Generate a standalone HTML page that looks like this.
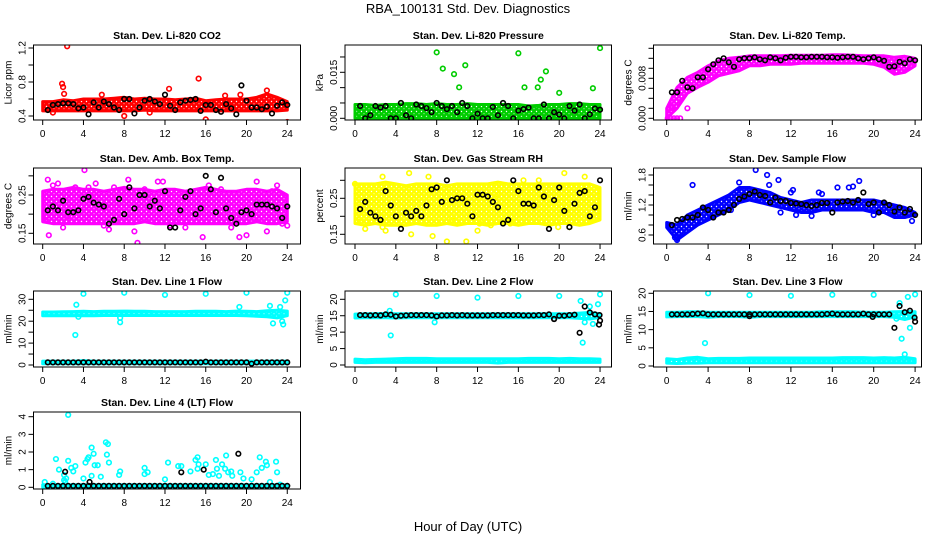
<!DOCTYPE html>
<html><head><meta charset="utf-8"><style>
html,body{margin:0;padding:0;background:#fff;}
svg{display:block;font-family:"Liberation Sans",sans-serif;}
</style></head><body>
<svg id="chart" width="936" height="540" viewBox="0 0 936 540" xmlns="http://www.w3.org/2000/svg">
<defs id="defs"></defs>
<text x="468" y="13" text-anchor="middle" font-size="13">RBA_100131  Std. Dev. Diagnostics</text>
<text x="468" y="531" text-anchor="middle" font-size="13">Hour of Day (UTC)</text>
</svg>
<script>
// shared hour arrays
const bandHours = [0,1,2,3,4,5,6,7,8,9,10,11,12,13,14,15,16,17,18,19,20,21,22,23,24];
const blackHours = [0.5,1,1.5,2,2.5,3,3.5,4,4.5,5,5.5,6,6.5,7,7.5,8,8.5,9,9.5,10,10.5,11,11.5,12,12.5,13,13.5,14,14.5,15,15.5,16,16.5,17,17.5,18,18.5,19,19.5,20,20.5,21,21.5,22,22.5,23,23.5,24];
const xTicks = [0,4,8,12,16,20,24];

// Panel 1 CO2
const co2Lo = [0.46,0.46,0.46,0.46,0.46,0.46,0.46,0.46,0.46,0.46,0.47,0.46,0.46,0.46,0.46,0.46,0.46,0.46,0.46,0.46,0.46,0.46,0.46,0.46,0.47];
const co2Hi = [0.57,0.57,0.59,0.58,0.6,0.6,0.6,0.61,0.62,0.6,0.61,0.6,0.6,0.59,0.6,0.61,0.58,0.59,0.6,0.6,0.6,0.62,0.66,0.62,0.57];
const co2OutX = [2.4,1.9,2.0,2.1,15.3,12.4,16,24,8,5.8,19.4,22,17.9,1.0,10.5];
const co2OutY = [1.22,0.78,0.74,0.66,0.84,0.72,0.36,0.33,0.4,0.65,0.65,0.7,0.64,0.44,0.44];
const co2Black = [0.47,0.53,0.54,0.55,0.55,0.54,0.49,0.5,0.42,0.56,0.5,0.57,0.54,0.5,0.47,0.6,0.6,0.43,0.5,0.58,0.6,0.57,0.54,0.65,0.52,0.47,0.56,0.58,0.59,0.6,0.46,0.53,0.53,0.47,0.45,0.54,0.49,0.42,0.76,0.58,0.5,0.5,0.48,0.51,0.43,0.52,0.56,0.53];

// Panel 2 Pressure
const presLo = [0,0,0,0,0,0,0,0,0,0,0,0,0,0,0,0,0,0,0,0,0,0,0,0,0];
const presHi = [0.0045,0.0045,0.0042,0.0045,0.0045,0.0048,0.0048,0.0045,0.0048,0.0045,0.0045,0.0048,0.0045,0.0045,0.0045,0.0045,0.0045,0.004,0.0042,0.0045,0.0045,0.0048,0.0048,0.0045,0.0045];
const presOutX = [8,8.6,9.7,10.8,10.2,16,16.6,17.9,18.2,18.7,20,23.3,24];
const presOutY = [0.0215,0.0162,0.0144,0.0173,0.0101,0.0212,0.0101,0.0101,0.0126,0.0153,0.0083,0.0098,0.0229];
const presBlack = [0.004,0,0.001,0.004,0.0035,0.004,0,0,0.005,0.001,0,0.0045,0.004,0.0033,0.002,0.005,0.004,0.003,0.004,0.002,0.005,0.004,0,0.0015,0,0,0.0037,0.001,0.005,0.004,0,0.0025,0.003,0.0035,0,0,0.0045,0,0.002,0.0012,0,0.004,0.0025,0.0045,0,0.0013,0.0032,0.0028];

// Panel 3 Li-820 Temp
const tempLo = [0.0000,0.0020,0.0050,0.0062,0.0072,0.0085,0.0090,0.0095,0.0105,0.0105,0.0108,0.0108,0.0108,0.0110,0.0110,0.0110,0.0110,0.0110,0.0110,0.0110,0.0108,0.0102,0.0088,0.0092,0.0105];
const tempHi = [0.0020,0.0062,0.0082,0.0092,0.0105,0.0115,0.0120,0.0122,0.0125,0.0125,0.0125,0.0125,0.0126,0.0126,0.0126,0.0126,0.0127,0.0127,0.0126,0.0125,0.0125,0.0125,0.0122,0.0124,0.0120];
const tempOutX = [0.1,0.4,0.7,1.0,1.3,0.5,2.0];
const tempOutY = [0.0000,0.0000,0.0000,0.0000,0.0000,0.0020,0.0020];
const tempBlack = [0.0052,0.0052,0.0075,0.0062,0.006,0.0082,0.0082,0.0098,0.0108,0.0116,0.0120,0.0112,0.0103,0.0118,0.0120,0.0120,0.0122,0.0118,0.0116,0.0122,0.0120,0.0116,0.0121,0.0123,0.0123,0.0122,0.0122,0.0123,0.0123,0.0123,0.0122,0.0122,0.0121,0.0122,0.0123,0.0123,0.012,0.0118,0.012,0.0122,0.0118,0.0115,0.0103,0.0104,0.0113,0.011,0.0118,0.0116];

// Panel 4 Amb Box Temp
const ambLo = [0.18,0.175,0.175,0.175,0.175,0.175,0.175,0.175,0.175,0.175,0.18,0.175,0.175,0.175,0.175,0.175,0.175,0.175,0.175,0.175,0.175,0.18,0.175,0.175,0.18];
const ambHi = [0.26,0.265,0.265,0.27,0.265,0.265,0.26,0.265,0.27,0.265,0.265,0.26,0.265,0.265,0.26,0.265,0.27,0.265,0.26,0.26,0.265,0.265,0.26,0.265,0.25];
const ambOutX = [0.5,0.6,1,1.5,0.3,2,3.2,4.1,4.5,5.2,6.5,7,8.4,9,9.3,10,11.3,11.8,12.5,14,15.7,16.3,17.5,18.5,19.3,20,21,22,22.5,23,23.5,24,2.5,13,6,19];
const ambOutY = [0.29,0.145,0.275,0.28,0.185,0.165,0.27,0.315,0.27,0.28,0.16,0.27,0.29,0.155,0.125,0.265,0.285,0.285,0.17,0.165,0.14,0.275,0.265,0.165,0.14,0.145,0.285,0.155,0.26,0.275,0.175,0.17,0.195,0.18,0.17,0.18];
const ambBlack = [0.21,0.22,0.21,0.235,0.205,0.205,0.21,0.24,0.245,0.23,0.225,0.22,0.175,0.185,0.24,0.2,0.27,0.215,0.25,0.25,0.22,0.235,0.215,0.26,0.165,0.165,0.21,0.245,0.26,0.2,0.215,0.3,0.265,0.205,0.295,0.215,0.19,0.175,0.205,0.21,0.2,0.225,0.225,0.225,0.22,0.215,0.19,0.22];

// Panel 5 Gas Stream RH
const rhLo = [0.18,0.175,0.18,0.175,0.175,0.175,0.18,0.175,0.175,0.18,0.175,0.18,0.18,0.175,0.18,0.18,0.175,0.18,0.18,0.175,0.18,0.18,0.175,0.18,0.19];
const rhHi = [0.29,0.29,0.29,0.295,0.29,0.285,0.29,0.29,0.29,0.285,0.29,0.29,0.29,0.29,0.295,0.29,0.29,0.29,0.29,0.29,0.29,0.29,0.29,0.29,0.28];
const rhOutX = [0,0.5,1,2.7,2.7,3,5.3,5.5,7.2,7.6,9,10.9,12,12.2,13.3,15.2,19.9,20.5,21,22.5,23,9.5,16.5,14,18];
const rhOutY = [0.29,0.185,0.165,0.17,0.31,0.16,0.32,0.15,0.31,0.145,0.13,0.13,0.16,0.18,0.175,0.18,0.17,0.32,0.17,0.31,0.19,0.19,0.3,0.26,0.3];
const rhBlack = [0.22,0.24,0.21,0.2,0.19,0.27,0.23,0.2,0.165,0.21,0.2,0.215,0.2,0.23,0.275,0.28,0.24,0.3,0.245,0.25,0.25,0.235,0.2,0.26,0.26,0.255,0.24,0.225,0.18,0.19,0.3,0.27,0.235,0.235,0.23,0.28,0.255,0.165,0.245,0.28,0.215,0.17,0.235,0.265,0.27,0.2,0.225,0.3];

// Panel 6 Sample Flow
const flowLo = [0.75,0.5,0.65,0.8,0.9,1.0,1.1,1.25,1.3,1.25,1.2,1.15,1.1,1.05,1.05,1.1,1.1,1.1,1.1,1.1,1.05,1.05,0.95,0.95,1.0];
const flowHi = [0.85,0.8,1.0,1.1,1.2,1.3,1.4,1.55,1.55,1.5,1.45,1.35,1.3,1.25,1.3,1.3,1.3,1.3,1.3,1.3,1.3,1.25,1.2,1.15,1.05];
const flowOutX = [2.5,1,0.8,7,8.6,9.7,10.8,9.9,12,12.2,14.7,15,16.5,17.6,18,18.6,20,23.7,14,11,6.2,12.5];
const flowOutY = [1.6,0.5,0.55,1.65,1.9,1.8,1.7,1.6,1.45,1.5,1.45,1.42,1.55,1.55,1.57,1.68,1.0,0.88,0.98,1.05,1.1,1.0];
const flowBlack = [0.8,0.9,0.92,0.95,0.95,1.0,1.15,1.1,0.95,1.05,1.05,1.1,1.2,1.32,1.37,1.42,1.47,1.40,1.38,1.25,1.35,1.28,1.28,1.24,1.23,1.22,1.2,1.18,1.2,1.24,1.24,1.05,1.25,1.27,1.28,1.25,1.3,1.45,1.22,1.25,1.05,1.25,1.2,1.07,1.15,1.05,1.12,1.0];

// Panel 7 Line 1 Flow
const l1Lo = [22.5,22.5,22.5,22.5,22.5,22.5,22.6,22.6,22.6,22.6,22.6,22.6,22.6,22.6,22.6,22.6,22.6,22.6,22.6,22.6,22.5,22.3,22.0,21.5,22.5];
const l1Hi = [24.2,24.2,24.3,24.4,24.5,24.4,24.5,24.5,24.6,24.5,24.5,24.4,24.4,24.4,24.4,24.5,24.5,24.5,24.4,24.6,24.5,24.4,24.8,25.0,24.6];
const l1Lo2 = [0.6,0.6,0.6,0.6,0.6,0.6,0.6,0.6,0.6,0.6,0.6,0.6,0.6,0.6,0.6,0.6,0.6,0.6,0.6,0.6,0.6,0.6,0.6,0.6,0.6];
const l1Hi2 = [1.8,1.8,1.8,1.8,2.0,1.8,1.8,1.8,1.8,1.8,1.8,1.8,1.8,1.8,1.8,1.8,1.8,1.8,1.8,1.8,1.8,1.8,1.8,1.8,1.8];
const l1OutX = [3.2,3.3,4,8,12,16,20,7.6,7.6,19.3,22.3,22.6,23.3,23.6,23.8,24,23.5,3.5];
const l1OutY = [13.7,27.5,32.5,33,32,32.5,33,19.5,21.5,26.5,27,19,26.5,18.5,29.5,33,20,22];
const l1Black = [1.2,1.2,1.2,1.2,1.2,1.2,1.2,1.2,1.2,1.2,1.2,1.2,1.2,1.2,1.2,1.2,1.2,1.2,1.2,1.2,1.2,1.2,1.2,1.2,1.2,1.2,1.2,1.2,1.2,1.2,1.2,1.5,1.2,1.2,1.2,1.2,1.2,1.2,1.2,1.2,0.6,1.2,1.2,1.2,1.2,1.2,1.2,1.2];

// Panel 8 Line 2 Flow
const l2Lo = [14.3,14.4,14.4,14.4,14.3,14.4,14.4,14.4,14.4,14.4,14.4,14.4,14.4,14.4,14.4,14.4,14.4,14.4,14.4,14.4,14.4,14.4,14.2,14.0,14.5];
const l2Hi = [15.5,15.6,15.6,15.7,15.6,15.6,15.6,15.6,15.6,15.6,15.6,15.6,15.6,15.6,15.6,15.6,15.6,15.6,15.6,15.6,15.6,15.6,15.8,16.0,15.6];
const l2Lo2 = [0.8,0.7,0.8,0.8,0.8,0.8,0.8,0.8,0.8,0.8,0.8,0.8,0.8,0.8,0.6,0.8,0.8,0.8,0.8,0.8,0.8,0.8,0.8,0.8,0.8];
const l2Hi2 = [1.8,1.6,1.7,1.8,1.9,2.0,2.0,2.0,1.9,1.9,1.9,1.9,1.9,1.9,1.9,1.9,1.9,2.0,2.0,2.0,1.9,2.0,1.9,1.9,1.8];
const l2OutX = [4,8,12,16,20,24,3.5,3.4,7.8,22.3,22.1,23,23.3,23.8,22.5];
const l2OutY = [21.5,21,20.5,21,21,21.5,9,16.5,13,6.8,19.5,17.8,12.5,18.5,13];
const l2Black = [15.2,15.2,15.1,15.2,15.1,15.4,15.3,14.8,15.0,15.1,15.2,15.2,15.2,15.2,15.1,14.8,15.1,15.1,15.2,15.1,15.2,15.1,15.1,15.1,15.1,15.1,15.2,15.2,15.2,15.2,15.2,15.2,15.1,15.1,15.1,15.2,15.2,15.4,14.0,15.0,15.0,15.2,15.3,9.8,17.8,16.0,15.4,13.5];
const l2XX = [23.9,23.95,19.5];
const l2XY = [12.3,15.2,14.0];

// Panel 9 Line 3 Flow
const l3Lo = [13.5,13.6,13.6,13.6,13.4,13.6,13.6,13.6,13.4,13.6,13.6,13.6,13.6,13.6,13.6,13.6,13.6,13.6,13.6,13.6,13.6,13.6,13.4,12.8,13.5];
const l3Hi = [14.8,14.8,14.9,14.9,14.8,14.8,14.8,14.8,14.8,14.8,14.8,14.8,14.8,14.8,14.8,14.9,14.9,14.9,14.9,14.8,14.8,14.8,14.9,15.0,14.9];
const l3Lo2 = [0.8,0.7,0.8,0.8,0.9,0.9,0.9,0.9,0.9,0.9,0.9,0.9,0.9,0.9,0.9,0.9,0.9,0.9,0.9,0.9,0.9,0.9,0.9,0.9,0.9];
const l3Hi2 = [2.0,1.8,2.2,2.4,2.0,2.1,2.1,2.1,2.2,2.2,2.2,2.2,2.2,2.2,2.2,2.2,2.2,2.3,2.3,2.3,2.2,2.3,2.2,2.4,2.0];
const l3OutX = [4,8,12,16,20,24,3.7,22.5,22.7,23.3,23.5,23,22.2];
const l3OutY = [20,19.5,19.3,19.6,19.6,19.7,6.3,17.3,7.5,19,10.5,3.2,13.0];
const l3Black = [14.2,14.2,14.2,14.2,14.3,14.4,14.5,14.2,14.2,14.2,14.2,14.2,14.2,14.2,14.2,14.2,14.2,14.2,14.2,14.2,14.2,14.2,14.2,14.2,14.2,14.2,14.2,14.2,14.2,14.2,14.3,14.4,14.2,14.2,14.2,14.2,14.2,14.4,14.2,14.2,14.2,14.2,14.2,10.5,16.5,14.8,15.2,12.2];
const l3XX = [23.95,19.9,8];
const l3XY = [13.3,13.5,13.7];

// Panel 10 Line 4 (LT) Flow
const l4Lo = [0,0,0,0,0,0,0,0,0,0,0,0,0,0,0,0,0,0,0,0,0,0,0,0,0];
const l4Hi = [0.15,0.15,0.15,0.15,0.15,0.15,0.15,0.15,0.15,0.15,0.15,0.15,0.15,0.15,0.15,0.15,0.15,0.15,0.15,0.15,0.15,0.15,0.15,0.15,0.15];
const l4OutX = [2.5,1.3,1.6,2.5,2.8,3.2,3,2.3,4.2,4.4,4.5,4.8,5,5.1,5.4,4.8,4,5.7,6.2,6.4,6.3,6.5,7.5,7.6,10,10.3,10,12,12.3,13.3,13.6,14.5,15,15.2,15.3,15.2,16,16.3,16.7,17,17.1,17.3,17.6,17.9,18,18.2,18.5,18.6,19.4,19.7,20.5,21,21.3,21.5,21.9,22,22.9,23,23.3,22.3,1,0.2,2.1,2.1,2.2];
const l4OutY = [4.1,1.6,1,1.5,1.1,1.2,0.9,0.5,1.4,1.6,1.7,2.25,1.9,1.25,1.25,0.65,0.5,0.6,2.55,2.45,1.85,1.4,0.7,0.9,1.1,0.85,0.75,0.45,1.4,1.2,1.2,0.9,1.55,1.7,1.3,1.05,1.3,0.7,0.75,1.55,1.05,0.65,1.3,1.05,1.8,0.85,0.9,0.65,0.85,0.5,0.45,0.85,1.7,1.1,1.45,1.25,1.45,0.85,0.15,0.3,0.2,0.3,0.7,0.4,0.3];
const l4Black = [0.08,0.08,0.08,0.08,0.08,0.08,0.08,0.08,0.08,0.08,0.08,0.08,0.08,0.08,0.08,0.08,0.08,0.08,0.08,0.08,0.08,0.08,0.08,0.08,0.08,0.08,0.08,0.08,0.08,0.08,0.08,0.08,0.08,0.08,0.08,0.08,0.08,0.08,0.08,0.08,0.08,0.08,0.08,0.08,0.08,0.08,0.08,0.08];
const l4XX = [2.2,4.6,13.6,15.8,19.2];
const l4XY = [0.88,0.3,0.85,1.0,1.9];

const NS = 'http://www.w3.org/2000/svg';
const svg = document.getElementById('chart');
const defs = document.getElementById('defs');
function mk(tag, attrs, parent){
  const e = document.createElementNS(NS, tag);
  for (const k in attrs) e.setAttribute(k, attrs[k]);
  (parent||svg).appendChild(e);
  return e;
}
const cols = [{l:33.5,r:300.5,x0:42.7,sc:10.19},{l:345,r:611.5,x0:355,sc:10.21},{l:653.5,r:921.5,x0:666.7,sc:10.35}];
const rows = [{t:45,b:120},{t:168,b:244},{t:291,b:367},{t:412,b:489}];

const panels = [
 {name:'co2',title:'Stan. Dev. Li-820 CO2',ytitle:'Licor ppm',c:0,r:0,col:'#ff0000',y0:0.4,py0:116,y1:1.2,py1:48,ticks:[0.4,0.6,0.8,1.0,1.2],labels:['0.4','0.8','1.2'],bands:[[co2Lo,co2Hi]],ox:co2OutX,oy:co2OutY,black:co2Black},
 {name:'pressure',title:'Stan. Dev. Li-820 Pressure',ytitle:'kPa',c:1,r:0,col:'#00cd00',y0:0,py0:118.3,y1:0.015,py1:72.3,ticks:[0,0.005,0.01,0.015,0.02],labels:['0.000','0.015'],bands:[[presLo,presHi]],ox:presOutX,oy:presOutY,black:presBlack},
 {name:'li820-temp',title:'Stan. Dev. Li-820 Temp.',ytitle:'degrees C',c:2,r:0,col:'#ff00ff',y0:0,py0:118.3,y1:0.008,py1:78.3,ticks:[0,0.002,0.004,0.006,0.008,0.010,0.012,0.014],labels:['0.000','0.008'],bands:[[tempLo,tempHi]],ox:tempOutX,oy:tempOutY,black:tempBlack},
 {name:'amb-box-temp',title:'Stan. Dev. Amb. Box Temp.',ytitle:'degrees C',c:0,r:1,col:'#ff00ff',y0:0.15,py0:233.3,y1:0.25,py1:195,ticks:[0.15,0.2,0.25,0.3],labels:['0.15','0.25'],bands:[[ambLo,ambHi]],ox:ambOutX,oy:ambOutY,black:ambBlack},
 {name:'gas-stream-rh',title:'Stan. Dev. Gas Stream RH',ytitle:'percent',c:1,r:1,col:'#ffff00',y0:0.15,py0:234.3,y1:0.25,py1:198.3,ticks:[0.15,0.2,0.25,0.3],labels:['0.15','0.25'],bands:[[rhLo,rhHi]],ox:rhOutX,oy:rhOutY,black:rhBlack},
 {name:'sample-flow',title:'Stan. Dev. Sample Flow',ytitle:'ml/min',c:2,r:1,col:'#0000ff',y0:0.6,py0:235,y1:1.8,py1:175,ticks:[0.6,0.8,1.0,1.2,1.4,1.6,1.8],labels:['0.6','1.2','1.8'],bands:[[flowLo,flowHi]],ox:flowOutX,oy:flowOutY,black:flowBlack},
 {name:'line1-flow',title:'Stan. Dev. Line 1 Flow',ytitle:'ml/min',c:0,r:2,col:'#00ffff',y0:0,py0:365,y1:30,py1:299.3,ticks:[0,5,10,15,20,25,30],labels:['0','10','20','30'],bands:[[l1Lo,l1Hi],[l1Lo2,l1Hi2]],ox:l1OutX,oy:l1OutY,black:l1Black},
 {name:'line2-flow',title:'Stan. Dev. Line 2 Flow',ytitle:'ml/min',c:1,r:2,col:'#00ffff',y0:0,py0:365,y1:20,py1:299.3,ticks:[0,5,10,15,20],labels:['0','5','10','15','20'],bands:[[l2Lo,l2Hi],[l2Lo2,l2Hi2]],ox:l2OutX,oy:l2OutY,black:l2Black,bx2:l2XX,by2:l2XY},
 {name:'line3-flow',title:'Stan. Dev. Line 3 Flow',ytitle:'ml/min',c:2,r:2,col:'#00ffff',y0:0,py0:366,y1:20,py1:293.3,ticks:[0,5,10,15,20],labels:['0','5','10','15','20'],bands:[[l3Lo,l3Hi],[l3Lo2,l3Hi2]],ox:l3OutX,oy:l3OutY,black:l3Black,bx2:l3XX,by2:l3XY},
 {name:'line4-flow',title:'Stan. Dev. Line 4 (LT) Flow',ytitle:'ml/min',c:0,r:3,col:'#00ffff',y0:0,py0:487.3,y1:4,py1:416.7,ticks:[0,1,2,3,4],labels:['0','1','2','3','4'],bands:[[l4Lo,l4Hi]],ox:l4OutX,oy:l4OutY,black:l4Black,bx2:l4XX,by2:l4XY}
];

// speckle patterns per colour
const made = {};
function patternFor(col){
  const id = 'pat' + col.replace('#','');
  if (made[id]) return id;
  made[id] = 1;
  const pt = mk('pattern',{id:id,width:5,height:5,patternUnits:'userSpaceOnUse'},defs);
  mk('rect',{x:0,y:0,width:5,height:5,fill:col},pt);
  mk('circle',{cx:1.5,cy:1.5,r:0.7,fill:'#fff'},pt);
  mk('circle',{cx:4,cy:3.8,r:0.5,fill:'#fff'},pt);
  return id;
}

panels.forEach(p=>{
  const C = cols[p.c], R = rows[p.r];
  const xs = h => C.x0 + h*C.sc;
  const ys = v => p.py0 + (v - p.y0)*(p.py1 - p.py0)/(p.y1 - p.y0);
  const g = mk('g',{});
  
  
  const cp = mk('clipPath',{id:'clip-'+p.name},g);
  mk('rect',{x:C.l,y:R.t,width:C.r-C.l,height:R.b-R.t},cp);
  const t = mk('text',{x:(C.l+C.r)/2,y:R.t-6,'text-anchor':'middle','font-size':10.5,'font-weight':'bold'},g);
  t.textContent = p.title;
  
  
  const yt = mk('text',{x:0,y:0,'text-anchor':'middle','font-size':10,transform:`translate(${C.l-22},${(R.t+R.b)/2}) rotate(-90)`},g);
  yt.textContent = p.ytitle;
  
  
  const plot = mk('g',{'clip-path':`url(#clip-${p.name})`},g);
  const pid = patternFor(p.col);
  p.bands.forEach((b,bi)=>{
    let d = '';
    bandHours.forEach((h,i)=>{ d += (i?'L':'M') + xs(h).toFixed(1)+','+ys(b[1][i]).toFixed(1); });
    for(let i=bandHours.length-1;i>=0;i--) d += 'L'+xs(bandHours[i]).toFixed(1)+','+ys(b[0][i]).toFixed(1);
    d += 'Z';
    const band = mk('path',{d:d,fill:`url(#${pid})`,stroke:p.col,'stroke-width':3,'stroke-linejoin':'round'},plot);
    
    
  });
  p.ox.forEach((h,i)=>{
    const c = mk('circle',{cx:xs(h),cy:ys(p.oy[i]),r:2.3,fill:'none',stroke:p.col,'stroke-width':1.6},plot);
    
    
  });
  blackHours.forEach((h,i)=>{
    const c = mk('circle',{cx:xs(h),cy:ys(p.black[i]),r:2.3,fill:'none',stroke:'#000','stroke-width':1.6},plot);
    
    
  });
  if (p.bx2) p.bx2.forEach((h,i)=>{
    const c = mk('circle',{cx:xs(h),cy:ys(p.by2[i]),r:2.3,fill:'none',stroke:'#000','stroke-width':1.6},plot);
    
    
  });
  const box = mk('rect',{x:C.l,y:R.t,width:C.r-C.l,height:R.b-R.t,fill:'none',stroke:'#000','stroke-width':1},g);
  
  
  const xa = mk('g',{},g);
  
  
  mk('line',{x1:xs(xTicks[0]),x2:xs(xTicks[xTicks.length-1]),y1:R.b,y2:R.b,stroke:'#000'},xa);
  xTicks.forEach(h=>{
    mk('line',{x1:xs(h),x2:xs(h),y1:R.b,y2:R.b+5,stroke:'#000'},xa);
    const tl = mk('text',{x:xs(h),y:R.b+17,'text-anchor':'middle','font-size':10},xa);
    tl.textContent = String(h);
  });
  const ya = mk('g',{},g);
  
  
  mk('line',{x1:C.l,x2:C.l,y1:ys(p.ticks[0]),y2:ys(p.ticks[p.ticks.length-1]),stroke:'#000'},ya);
  p.ticks.forEach(v=>{
    mk('line',{x1:C.l-5,x2:C.l,y1:ys(v),y2:ys(v),stroke:'#000'},ya);
  });
  p.labels.forEach(s=>{
    const v = parseFloat(s);
    const tl = mk('text',{x:0,y:0,'text-anchor':'middle','font-size':10,transform:`translate(${C.l-8},${ys(v)}) rotate(-90)`},ya);
    tl.textContent = s;
  });
});
</script>
</body></html>
